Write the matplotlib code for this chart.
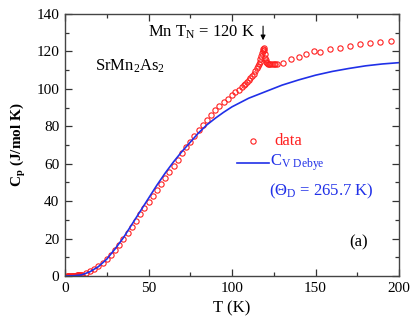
import matplotlib
matplotlib.use("Agg")
import matplotlib.pyplot as plt
from matplotlib.ticker import MultipleLocator

plt.rcParams["font.family"] = ["Liberation Serif", "DejaVu Serif"]
plt.rcParams["mathtext.fontset"] = "custom"
plt.rcParams["mathtext.rm"] = "Liberation Serif"
plt.rcParams["mathtext.it"] = "Liberation Serif"
plt.rcParams["mathtext.bf"] = "Liberation Serif:bold"

T_data = [1, 1.5, 2, 2.5, 3, 3.5, 4, 4.5, 5, 5.5, 6, 6.5, 7, 7.5, 8, 8.5, 9,
          9.5, 10, 12.5, 15, 17.5, 20, 22.5, 25, 27.5, 30, 32.5, 35, 37.5,
          40, 42.5, 45, 47.5, 50, 52.5, 55, 57.5, 60, 62.5, 65, 67.5, 70,
          72.5, 75, 77.5, 80, 82.5, 85, 87.5, 90, 92.5, 95, 97.5, 100, 102,
          104, 106, 107, 108, 109, 110, 111, 112, 113, 114, 115, 115.5, 116,
          116.5, 117, 117.5, 118, 118.3, 118.6, 118.9, 119.2, 119.5, 119.8,
          120.1, 120.5, 121, 121.5, 122, 123, 124, 125, 126, 127,
          130.5, 135.3, 140, 144.3, 148.9, 152.9, 158.7, 164.7, 170.5,
          176.8, 182.8, 188.6, 195]
Cp_data = [0.0, 0.0, 0.01, 0.02, 0.03, 0.04, 0.06, 0.08, 0.1, 0.13, 0.17,
           0.22, 0.27, 0.33, 0.4, 0.47, 0.55, 0.65, 0.75,
           1.6, 2.6, 3.8, 5.2, 7.0, 9.0, 11.3, 14.0, 16.8, 19.8, 23.0, 26.3,
           29.6, 33.0, 36.3, 39.6, 42.8, 46.0, 49.2, 52.3, 55.5, 58.8, 62.2,
           65.5, 68.7, 71.8, 74.8, 77.8, 80.6, 83.3, 86.0, 88.5, 90.7, 92.8,
           94.8, 96.7, 98.2, 99.6, 101.1, 101.9, 102.8, 103.7, 104.7, 105.7,
           106.9, 108.2, 109.7, 111.4, 112.3, 113.3, 114.5, 115.8, 117.3,
           119.0, 120.3, 121.3, 121.6, 120.5, 118.5, 116.6, 115.2, 114.2,
           113.7, 113.4, 113.3, 113.2, 113.2, 113.3, 113.4, 113.5,
           113.7, 115.8, 117.2, 118.5, 120.3, 119.7, 121.2, 122.0, 122.9,
           123.8, 124.7, 125.0, 125.6]

# Debye fit curve
T_debye = [0, 5, 10, 15, 20, 25, 30, 35, 40, 45, 50, 55, 60, 65, 70, 75, 80,
           85, 90, 95, 100, 110, 120, 130, 140, 150, 160, 170, 180, 190, 200]
Cp_debye = [0, 0.1, 0.6, 2.3, 5.0, 9.0, 14.5, 20.5, 27.5, 34.5, 41.5, 48.5,
            55.0, 61.0, 66.5, 71.5, 76.5, 80.8, 84.3, 87.5, 90.4, 95.0, 98.5,
            102.0, 104.8, 107.3, 109.3, 110.9, 112.3, 113.3, 114.0]

RED = "#ff2020"
BLUE = "#2030e8"

fig = plt.figure(figsize=(4.15, 3.3), dpi=100)
ax = fig.add_axes([65 / 415, 54 / 330, 334 / 415, 262 / 330])

ax.plot(T_data, Cp_data, "o", mfc="none", mec=RED, ms=3.8, mew=0.8)
ax.plot(T_debye, Cp_debye, "-", color=BLUE, lw=1.2)

ax.set_xlim(0, 200)
ax.set_ylim(0, 140)
ax.xaxis.set_major_locator(MultipleLocator(50))
ax.xaxis.set_minor_locator(MultipleLocator(25))
ax.yaxis.set_major_locator(MultipleLocator(20))
ax.yaxis.set_minor_locator(MultipleLocator(10))
ax.tick_params(which="both", direction="in", top=True, right=True,
               labelsize=11, color="#333333", width=0.9, pad=4)
ax.tick_params(which="major", length=5)
ax.tick_params(which="minor", length=3)
for s in ax.spines.values():
    s.set_color("#444444")
    s.set_linewidth(1.0)

ax.set_xlabel("T (K)", fontsize=12, labelpad=4)
ax.set_ylabel(r"C$_\mathbf{p}$ (J/mol K)", fontsize=11, fontweight="bold",
              labelpad=6)

# annotations
ax.text(49.5, 130, r"Mn T$_\mathrm{N}$ = 120 K", fontsize=12, va="center")
ax.annotate("", xy=(118.6, 124.5), xytext=(118.6, 135),
            arrowprops=dict(arrowstyle="-|>", color="black", lw=0.8,
                            mutation_scale=7))
ax.text(18, 112, r"SrMn$_\mathrm{2}$As$_\mathrm{2}$", fontsize=12,
        va="center")
ax.text(170.5, 18, "(a)", fontsize=12, va="center")

# legend drawn by hand
ax.plot([112.3], [72], "o", mfc="none", mec=RED, ms=3.8, mew=0.8)
ax.text(125.5, 72, "data", color=RED, fontsize=12, va="center")
ax.plot([103, 122], [60.5, 60.5], "-", color=BLUE, lw=1.2)
ax.text(122.5, 60.5, r"C$_\mathrm{V\ Debye}$", color=BLUE, fontsize=12,
        va="center")
ax.text(122, 45, r"($\Theta_\mathrm{D}$ = 265.7 K)", color=BLUE,
        fontsize=12, va="center")

fig.savefig("out.png", dpi=100)
